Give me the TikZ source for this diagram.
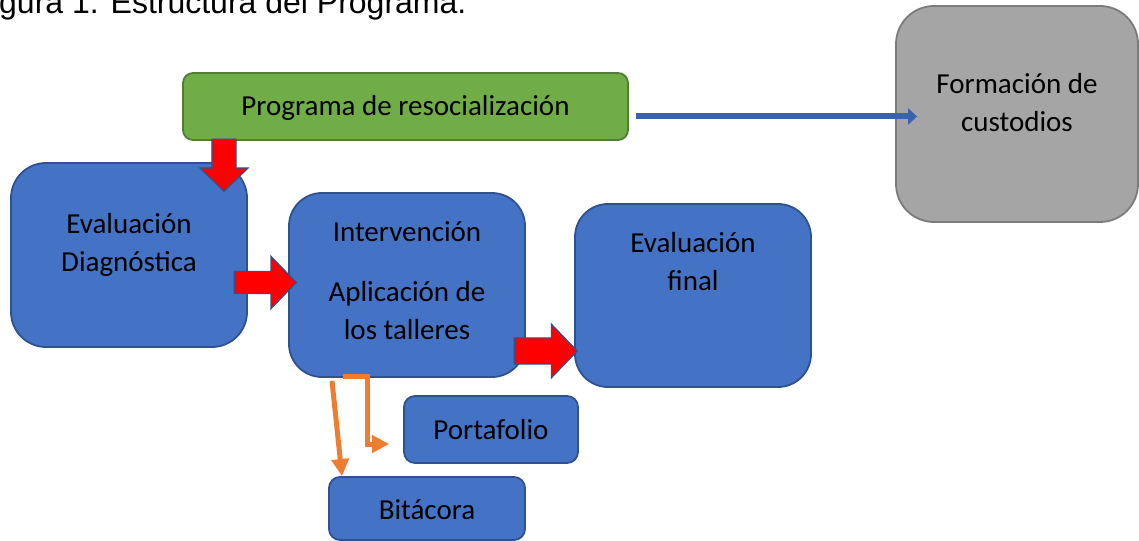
\documentclass[tikz,border=0pt]{standalone}
\usepackage{fontspec}
\usetikzlibrary{shapes.arrows,arrows.meta,calc}

\newfontfamily\carlito{Carlito}
\newfontfamily\arialike{Liberation Sans}

\definecolor{boxblue}{HTML}{4472C4}
\definecolor{edgeblue}{HTML}{2F528F}
\definecolor{boxgreen}{HTML}{70AD47}
\definecolor{edgegreen}{HTML}{507E32}
\definecolor{boxgray}{HTML}{A5A5A5}
\definecolor{edgegray}{HTML}{7B7B7B}
\definecolor{arroworange}{HTML}{ED7D31}
\definecolor{lineblue}{HTML}{3A63AE}

\begin{document}
\begin{tikzpicture}[x=1bp,y=-1bp,
    bluebox/.style={rectangle,draw=edgeblue,fill=boxblue,line width=1.8bp,inner sep=0pt},
    greenbox/.style={rectangle,draw=edgegreen,fill=boxgreen,line width=1.8bp,inner sep=0pt,rounded corners=10bp},
    graybox/.style={rectangle,draw=edgegray,fill=boxgray,line width=1.8bp,inner sep=0pt,rounded corners=38bp},
    boxtext/.style={font=\carlito\fontsize{29bp}{38bp}\selectfont,align=center,inner sep=0pt,anchor=base},
    redarrow/.style={single arrow,draw=edgeblue,fill=red,line width=1.2bp,minimum width=0pt,
        text width=0pt,text height=0pt,text depth=0pt,single arrow tip angle=92,anchor=tip},
    orangearrow/.style={draw=arroworange,line width=5bp,-{Triangle[length=17bp,width=17bp]}},
    bluearrow/.style={draw=lineblue,line width=6bp,-{Triangle[length=9bp,width=16bp]}}]

        % Frame of the page.
        \useasboundingbox(0,0)rectangle(1139,541);

        % Title.
        \node[font=\arialike\fontsize{32bp}{38bp}\selectfont,anchor=base west,inner sep=0pt](title)at(-1,14){gura 1. Estructura del Programa.};

        % Boxes.
        \node[greenbox,minimum width=445bp,minimum height=67bp](prog)at(405.5,106.5){};
        \node[graybox,minimum width=242bp,minimum height=216bp](cust)at(1017,114){};
        \node[bluebox,rounded corners=35bp,minimum width=236bp,minimum height=184bp](diag)at(129,255){};
        \node[bluebox,rounded corners=33bp,minimum width=236bp,minimum height=184bp](interv)at(407,285){};
        \node[bluebox,rounded corners=33bp,minimum width=236bp,minimum height=183bp](final)at(693,295.5){};
        \node[bluebox,rounded corners=11bp,minimum width=174bp,minimum height=67bp](porta)at(491,429.5){};
        \node[bluebox,rounded corners=11bp,minimum width=196bp,minimum height=63bp](bita)at(427,508.5){};

        % Texts of the boxes (base = last line).
        \node[boxtext](progtext)at(prog |- 0,116){Programa de resocialización};
        \node[boxtext](custtext)at(cust |- 0,132){Formación de\\custodios};
        \node[boxtext](diagtext)at(diag |- 0,272){Evaluación\\Diagnóstica};
        \node[boxtext](intervtitle)at(interv |- 0,242){Intervención};
        \node[boxtext](intervtext)at(interv |- 0,340){Aplicación de\\los talleres};
        \node[boxtext](finaltext)at(final |- 0,291){Evaluación\\final};
        \node[boxtext](portatext)at(porta |- 0,439){Portafolio};
        \node[boxtext](bitatext)at(bita |- 0,519){Bitácora};

        % Line to the training of the guards.
        \coordinate(progout)at([xshift=7bp,yshift=-10bp]prog.east);
        \coordinate(custin)at([xshift=22bp]cust.west);
        \draw[bluearrow](progout)--(progout -| custin);

        % Red block arrows.
        \node[redarrow,rotate=-90,inner sep=11.5bp,single arrow head extend=12bp,minimum height=52bp](arrprog)at([xshift=95bp,yshift=-30bp]diag.north){};
        \node[redarrow,inner sep=10.5bp,single arrow head extend=15bp,minimum height=62bp](arrdiag)at([xshift=9bp,yshift=2.5bp]interv.west){};
        \node[redarrow,inner sep=12.5bp,single arrow head extend=13.5bp,minimum height=63bp](arrinterv)at([xshift=4bp,yshift=-55.5bp]final.west){};

        % Orange arrows to the records.
        \draw[orangearrow]([xshift=-75bp,yshift=-3bp]interv.south)--([xshift=-85bp]bita.north);
        \draw[orangearrow]([xshift=-64bp,yshift=1bp]interv.south)--++(24,0)|-([xshift=-14bp,yshift=-14.5bp]porta.west);

\end{tikzpicture}
\end{document}
